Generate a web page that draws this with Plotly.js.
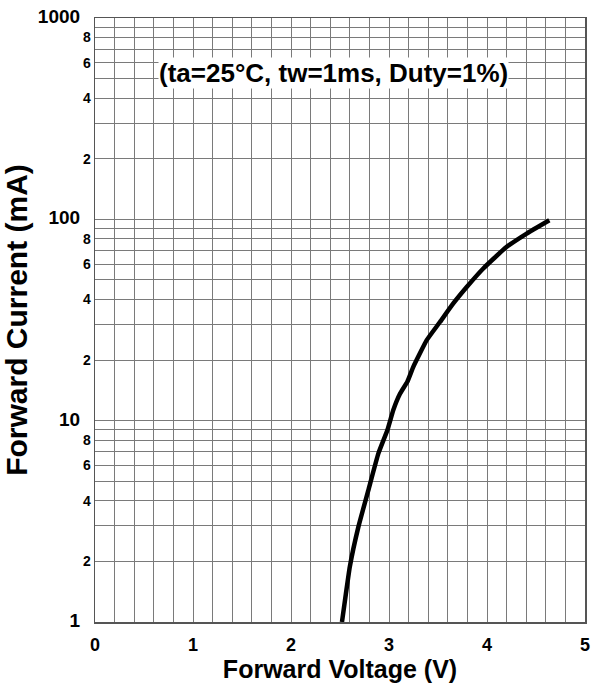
<!DOCTYPE html>
<html><head><meta charset="utf-8">
<script src="https://cdn.plot.ly/plotly-3.0.1.min.js"></script>
<style>html,body{margin:0;padding:0;background:#fff}#chart{width:592px;height:693px}</style>
</head><body><div id="chart"></div>
<script>
// Forward voltage (V) vs forward current (mA)
var voltage = [2.52, 2.56, 2.60, 2.687, 2.789, 2.891, 2.983, 3.044, 3.112, 3.187, 3.248, 3.385, 3.520, 3.656, 3.793, 3.962, 4.201, 4.405, 4.636];
var current = [1.0, 1.38, 1.88, 2.96, 4.51, 6.86, 8.96, 11.3, 13.6, 15.6, 18.5, 25.1, 30.9, 38.2, 46.1, 57.0, 73.0, 85.0, 99.0];

var xTickVals = [];
var xTickText = [];
for (var i = 0; i <= 25; i++) {
  var v = +(i * 0.2).toFixed(1);
  xTickVals.push(v);
  xTickText.push(i % 5 === 0 ? String(v) : '');
}
var yTickVals = [1,2,3,4,5,6,7,8,9,10,20,30,40,50,60,70,80,90,100,200,300,400,500,600,700,800,900,1000];
var yTickText = ['1','2','','4','','6','','8','','10','2','','4','','6','','8','','100','2','','4','','6','','8','','1000'];
var majorSet = {1:1,10:1,100:1,1000:1};
var yTickTextFmt = yTickText.map(function(t, k){
  if (majorSet[yTickVals[k]]) return '<span style="font-size:19px">' + t + '&nbsp;&nbsp;</span>';
  return t;
});

var trace = {
  x: voltage, y: current, type: 'scatter', mode: 'lines',
  line: {color: '#000', width: 4.5, shape: 'spline', smoothing: 0.4},
  hoverinfo: 'none'
};

var layout = {
  width: 592, height: 693,
  margin: {l: 95, r: 7, t: 18, b: 71},
  paper_bgcolor: '#fff', plot_bgcolor: '#fff',
  showlegend: false,
  font: {family: 'Liberation Sans, Arial, sans-serif', color: '#000'},
  xaxis: {
    range: [0, 5], tickmode: 'array', tickvals: xTickVals, ticktext: xTickText,
    showgrid: true, gridcolor: '#7a7a7a', gridwidth: 1,
    zeroline: false, showline: true, linecolor: '#555', linewidth: 1.5, mirror: true,
    ticks: '', ticklen: 0, ticklabelstandoff: 6,
    tickfont: {size: 18, family: 'Liberation Sans, Arial, sans-serif', weight: 'bold'},
    title: {text: '<b>Forward Voltage (V)</b>', font: {size: 25}, standoff: 4}
  },
  yaxis: {
    type: 'log', range: [0, 3], tickmode: 'array', tickvals: yTickVals, ticktext: yTickTextFmt,
    showgrid: true, gridcolor: '#7a7a7a', gridwidth: 1,
    zeroline: false, showline: true, linecolor: '#555', linewidth: 1.5, mirror: true,
    ticks: '', ticklen: 0,
    tickfont: {size: 14, family: 'Liberation Sans, Arial, sans-serif', weight: 'bold'},
    title: {text: '<b>Forward Current (mA)</b>', font: {size: 30}, standoff: 2}
  },
  annotations: [{
    text: '<b>(ta=25°C, tw=1ms, Duty=1%)</b>',
    xref: 'paper', yref: 'paper', x: 0.487, y: 0.909, xanchor: 'center', yanchor: 'middle',
    showarrow: false, bgcolor: '#fff', borderpad: 0,
    font: {size: 26, color: '#000'}
  }]
};

Plotly.newPlot('chart', [trace], layout, {staticPlot: true, displayModeBar: false});
</script></body></html>
